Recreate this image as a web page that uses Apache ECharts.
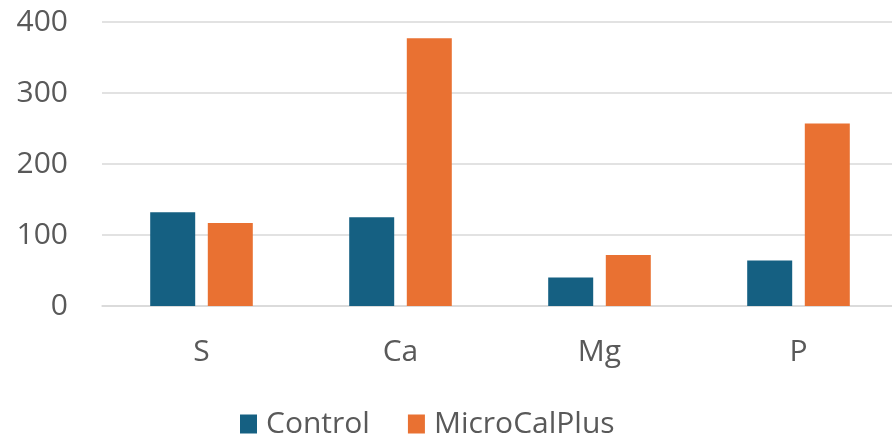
<!DOCTYPE html>
<html><head><meta charset="utf-8">
<script src="https://cdn.jsdelivr.net/npm/echarts@6/dist/echarts.min.js"></script>
<style>html,body{margin:0;padding:0;background:#fff;overflow:hidden}#c{width:900px;height:434px}</style>
</head><body><div id="c"></div>
<script>
const categories = ['S', 'Ca', 'Mg', 'P'];
const controlValues = [132, 125, 40, 64];
const microCalPlusValues = [117, 377, 72, 257];
const yTicks = [0, 100, 200, 300, 400];
const FONT = 'Open Sans';
const chart = echarts.init(document.getElementById('c'));
chart.setOption({
  animation: false,
  grid: {left: 102, top: 22, width: 796, height: 284},
  legend: {
    top: 404, left: 235, itemWidth: 17, itemHeight: 19, itemGap: 38,
    icon: 'rect',
    textStyle: {fontFamily: FONT, fontSize: 30, color: '#595959', padding: [0, 0, 0, 4]},
    data: ['Control', 'MicroCalPlus']
  },
  xAxis: {
    type: 'category', data: categories,
    axisLine: {lineStyle: {color: '#d9d9d9', width: 1.5}},
    axisTick: {show: false},
    axisLabel: {fontFamily: FONT, fontSize: 30, color: '#595959', margin: 31}
  },
  yAxis: {
    type: 'value', min: yTicks[0], max: yTicks[yTicks.length - 1], interval: 100,
    axisLine: {show: false}, axisTick: {show: false},
    splitLine: {lineStyle: {color: '#d9d9d9', width: 1.5}},
    axisLabel: {fontFamily: FONT, fontSize: 30, color: '#595959', margin: 34}
  },
  series: [
    {name: 'Control', type: 'bar', data: controlValues, barWidth: 45, barGap: '28%',
     itemStyle: {color: '#156082'}},
    {name: 'MicroCalPlus', type: 'bar', data: microCalPlusValues, barWidth: 45, barGap: '28%',
     itemStyle: {color: '#E97132'}}
  ]
});
</script></body></html>
